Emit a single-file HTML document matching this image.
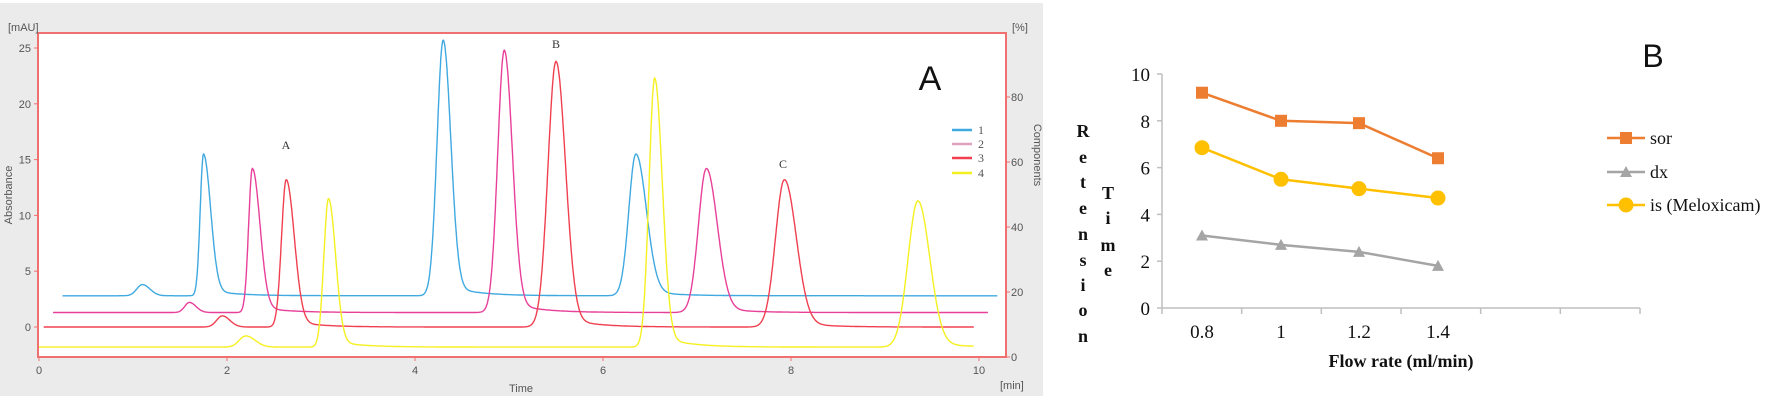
<!DOCTYPE html>
<html><head><meta charset="utf-8"><style>
html,body{margin:0;padding:0;background:#fff;}
svg{display:block;}
</style></head><body>
<svg id="s" width="1772" height="400" xmlns="http://www.w3.org/2000/svg">
<rect x="0" y="3" width="1043" height="393" fill="#ebebeb"/>
<rect x="38" y="33" width="968" height="324" fill="#fff" stroke="#f07070" stroke-width="2"/>
<g font-family="Liberation Sans, sans-serif" font-size="11" fill="#555">
<text x="8" y="31">[mAU]</text>
<text x="1012" y="31">[%]</text>
<text x="1000" y="389" >[min]</text>
<text x="521" y="392" text-anchor="middle">Time</text>
<text transform="translate(12,195) rotate(-90)" text-anchor="middle">Absorbance</text>
<text transform="translate(1034,155) rotate(90)" text-anchor="middle">Components</text>
</g>
<g id="lt" font-family="Liberation Sans, sans-serif" font-size="11" fill="#555"></g>
<g id="traces" fill="none" stroke-width="1.4"></g>
<g font-family="Liberation Serif, serif" font-size="12" fill="#333" text-anchor="middle">
<text x="286" y="149">A</text><text x="556" y="48">B</text><text x="783" y="168">C</text>
</g>
<text x="930" y="90" font-family="Liberation Sans, sans-serif" font-size="34" text-anchor="middle" fill="#111">A</text>
<g stroke-width="2.5">
<line x1="952" y1="130" x2="972" y2="130" stroke="#3fa9e0"/>
<line x1="952" y1="144" x2="972" y2="144" stroke="#e0a0c0"/>
<line x1="952" y1="158" x2="972" y2="158" stroke="#f04050"/>
<line x1="952" y1="173" x2="972" y2="173" stroke="#f5f020"/>
</g>
<g font-family="Liberation Serif, serif" font-size="12" fill="#555">
<text x="978" y="134">1</text><text x="978" y="148">2</text><text x="978" y="162">3</text><text x="978" y="177">4</text>
</g>
<g id="B"></g>
<text x="1653" y="67" font-family="Liberation Sans, sans-serif" font-size="32" text-anchor="middle" fill="#111">B</text>
<g font-family="Liberation Serif, serif" font-size="18" font-weight="bold" fill="#111" text-anchor="middle">
<text x="1083" y="137">R</text><text x="1083" y="163">e</text><text x="1083" y="188">t</text><text x="1083" y="214">e</text><text x="1083" y="240">n</text><text x="1083" y="266">s</text><text x="1083" y="291">i</text><text x="1083" y="316">o</text><text x="1083" y="342">n</text>
<text x="1108" y="199">T</text><text x="1108" y="224">i</text><text x="1108" y="251">m</text><text x="1108" y="276">e</text>
</g>
<text x="1401" y="367" font-family="Liberation Serif, serif" font-size="18" font-weight="bold" text-anchor="middle" fill="#111">Flow rate (ml/min)</text>
<g font-family="Liberation Serif, serif" font-size="18" fill="#111">
<text x="1650" y="144">sor</text><text x="1650" y="178">dx</text><text x="1650" y="211">is (Meloxicam)</text>
</g>
</svg>
<script>
var NS="http://www.w3.org/2000/svg";
function el(p,t,a,txt){var e=document.createElementNS(NS,t);for(var k in a)e.setAttribute(k,a[k]);if(txt!==undefined)e.textContent=txt;p.appendChild(e);return e;}
var lt=document.getElementById('lt');
function X(t){return 39+94*t;} function Y(v){return 327-11.16*v;}
for(var v=0;v<=25;v+=5){el(lt,'text',{x:31,y:Y(v)+4,'text-anchor':'end'},v);el(lt,'line',{x1:34,x2:38,y1:Y(v),y2:Y(v),stroke:'#f07070'});}
for(var t=0;t<=10;t+=2){el(lt,'text',{x:X(t),y:374,'text-anchor':'middle'},t);el(lt,'line',{x1:X(t),x2:X(t),y1:357,y2:361,stroke:'#f07070'});}
for(var p=0;p<=80;p+=20){var yy=357-3.25*p;el(lt,'text',{x:1011,y:yy+4},p);el(lt,'line',{x1:1006,x2:1010,y1:yy,y2:yy,stroke:'#f07070'});}
var tr=[
 {c:'#3fa9e0',b:2.8,s:0.25,e:10.2,pk:[[1.1,1,0.06,0.08],[1.75,12.7,0.035,0.075],[4.3,22.9,0.065,0.08],[6.35,12.7,0.075,0.11]]},
 {c:'#e8409a',b:1.3,s:0.15,e:10.1,pk:[[1.6,0.9,0.05,0.07],[2.27,12.9,0.04,0.08],[4.95,23.5,0.07,0.085],[7.1,12.9,0.085,0.115]]},
 {c:'#f04050',b:0,s:0.05,e:9.95,pk:[[1.95,1,0.06,0.08],[2.63,13.2,0.05,0.085],[5.5,23.8,0.085,0.1],[7.93,13.2,0.095,0.125]]},
 {c:'#f5f020',b:-1.8,s:0,e:9.95,pk:[[2.2,1,0.07,0.1],[3.08,13.3,0.05,0.075],[6.55,24.1,0.06,0.08],[9.35,13.1,0.105,0.125]]}
];
var g=document.getElementById('traces');
tr.forEach(function(T){var d='';for(var t=T.s;t<=T.e;t+=0.005){var v=T.b;T.pk.forEach(function(p){var dt=t-p[0];var sg=dt<0?p[2]:p[3];v+=p[1]*Math.exp(-dt*dt/(2*sg*sg));if(dt>0&&p[1]>5)v+=p[1]*0.045*Math.exp(-dt/0.3)*(1-Math.exp(-dt*dt/(2*sg*sg)));});d+=(d?'L':'M')+X(t).toFixed(1)+' '+Y(v).toFixed(1);}el(g,'path',{d:d,stroke:T.c});});
var B=document.getElementById('B');
function BY(v){return 308-23.4*v;} var cx=[1202,1281,1359,1438];
el(B,'line',{x1:1162,y1:74,x2:1162,y2:308,stroke:'#bfbfbf','stroke-width':1.5});
el(B,'line',{x1:1162,y1:308,x2:1640,y2:308,stroke:'#bfbfbf','stroke-width':1.5});
for(var i=0;i<=10;i+=2){el(B,'line',{x1:1157,x2:1162,y1:BY(i),y2:BY(i),stroke:'#bfbfbf','stroke-width':1.5});el(B,'text',{x:1150,y:BY(i)+7,'text-anchor':'end','font-family':'Liberation Serif, serif','font-size':19,fill:'#111'},i);}
for(var i=0;i<=6;i++){var xx=1162+i*79.67;el(B,'line',{x1:xx,x2:xx,y1:308,y2:314,stroke:'#bfbfbf','stroke-width':1.5});}
['0.8','1','1.2','1.4'].forEach(function(l,i){el(B,'text',{x:cx[i],y:338,'text-anchor':'middle','font-family':'Liberation Serif, serif','font-size':19,fill:'#111'},l);});
function series(vals,col,mk){var pts=vals.map(function(v,i){return cx[i]+','+BY(v);}).join(' ');el(B,'polyline',{points:pts,fill:'none',stroke:col,'stroke-width':2.5});vals.forEach(function(v,i){marker(cx[i],BY(v),col,mk);});}
function marker(x,y,col,mk){if(mk=='s')el(B,'rect',{x:x-6,y:y-6,width:12,height:12,fill:col});else if(mk=='c')el(B,'circle',{cx:x,cy:y,r:7.5,fill:col});else el(B,'polygon',{points:(x-6)+','+(y+5)+' '+(x+6)+','+(y+5)+' '+x+','+(y-6),fill:col});}
series([9.2,8.0,7.9,6.4],'#ed7d31','s');
series([3.1,2.7,2.4,1.8],'#a5a5a5','t');
series([6.85,5.5,5.1,4.7],'#ffc000','c');
[[138,'#ed7d31','s'],[172,'#a5a5a5','t'],[205,'#ffc000','c']].forEach(function(l){el(B,'line',{x1:1607,x2:1645,y1:l[0],y2:l[0],stroke:l[1],'stroke-width':2.5});marker(1626,l[0],l[1],l[2]);});
</script>
</body></html>
